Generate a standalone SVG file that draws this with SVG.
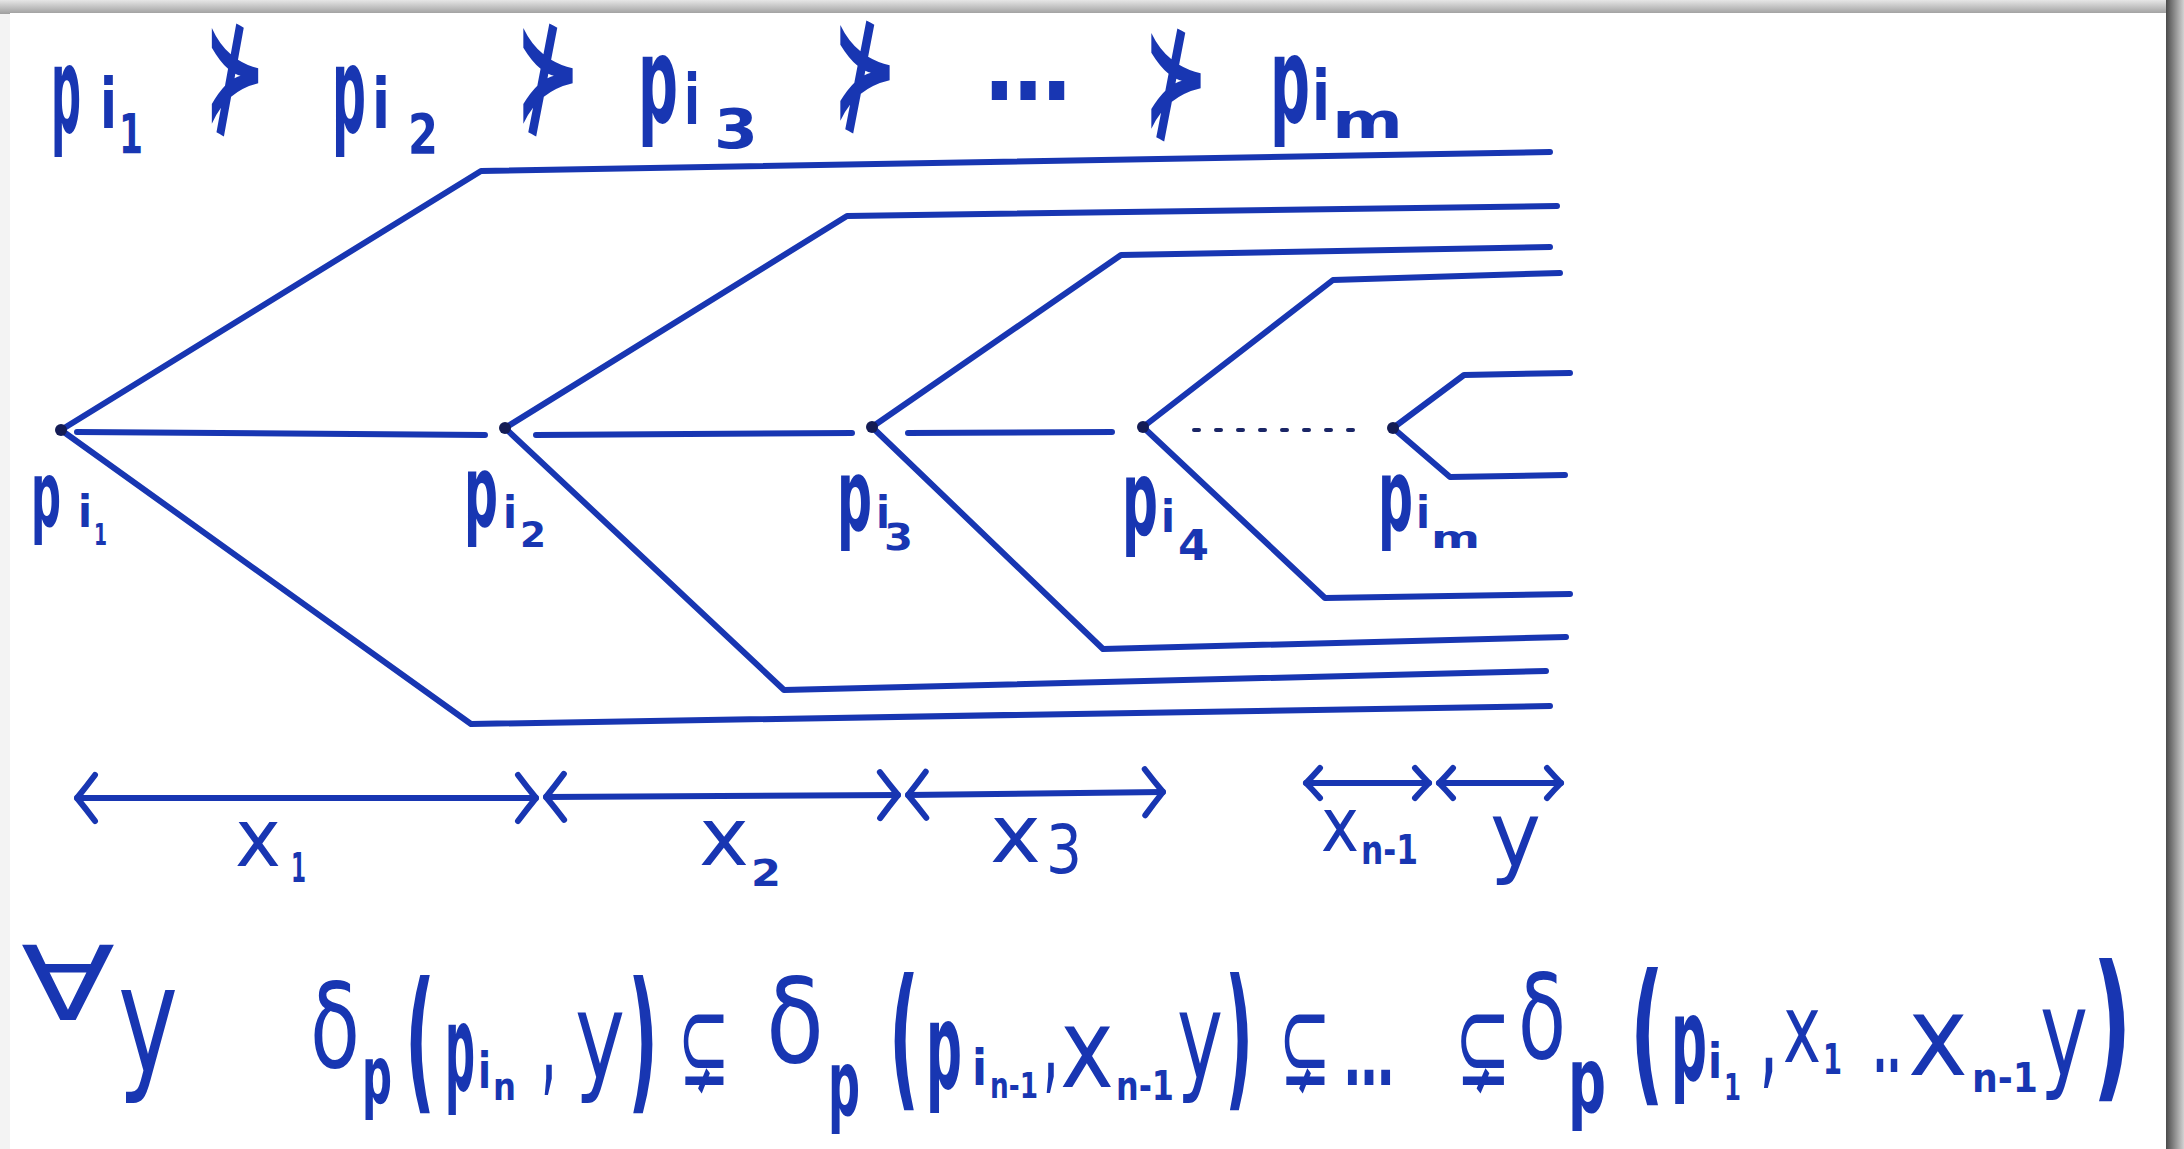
<svg xmlns="http://www.w3.org/2000/svg" width="2184" height="1149" viewBox="0 0 2184 1149">
<defs>
  <linearGradient id="gTop" x1="0" y1="0" x2="0" y2="1">
    <stop offset="0" stop-color="#e6e6e6"/>
    <stop offset="1" stop-color="#9e9e9e"/>
  </linearGradient>
  <linearGradient id="gRight" x1="0" y1="0" x2="1" y2="0">
    <stop offset="0" stop-color="#4a4a4a"/>
    <stop offset="1" stop-color="#d2d2d2"/>
  </linearGradient>
  <marker id="ahBig" markerUnits="userSpaceOnUse" viewBox="0 0 26 52" markerWidth="26" markerHeight="52" refX="22" refY="26" orient="auto-start-reverse" overflow="visible">
    <path d="M4,3 Q13,15 22,26 Q13,37 4,49" fill="none" stroke="#1836b2" stroke-width="6" stroke-linecap="round" stroke-linejoin="round"/>
  </marker>
  <marker id="ahSmall" markerUnits="userSpaceOnUse" viewBox="0 0 20 34" markerWidth="20" markerHeight="34" refX="17" refY="17" orient="auto-start-reverse" overflow="visible">
    <path d="M3,2 Q10,10 17,17 Q10,24 3,32" fill="none" stroke="#1836b2" stroke-width="6" stroke-linecap="round" stroke-linejoin="round"/>
  </marker>
</defs>
<style>
  .ln{fill:none;stroke:#1836b2;stroke-width:6;stroke-linecap:round;stroke-linejoin:round}
  .dot{fill:none;stroke:#1a2566;stroke-width:4;stroke-linecap:round;stroke-dasharray:5 17}
  .nd{fill:#141c55}
  .t{font-family:"DejaVu Sans","Liberation Sans",sans-serif;font-weight:normal;fill:#1836b2}
  .b{font-weight:bold}
</style>

<!-- page frame -->
<rect width="2184" height="1149" fill="#f3f3f3"/>
<rect x="0" y="0" width="2184" height="14" fill="url(#gTop)"/>
<rect x="2166" y="0" width="18" height="1149" fill="url(#gRight)"/>
<rect x="10" y="13" width="2156" height="1136" fill="#ffffff"/>

<!-- top formula -->
<g id="top-formula">
  <text class="t b"><tspan x="51" y="132" font-size="120" textLength="30" lengthAdjust="spacingAndGlyphs">p</tspan><tspan x="100" y="128" font-size="70" textLength="17" lengthAdjust="spacingAndGlyphs">i</tspan><tspan x="119" y="153" font-size="55" textLength="24" lengthAdjust="spacingAndGlyphs">1</tspan></text>
  <text class="t b" x="204" y="125" font-size="130" textLength="62" lengthAdjust="spacingAndGlyphs">⊁</text>
  <text class="t b"><tspan x="332" y="132" font-size="120" textLength="34" lengthAdjust="spacingAndGlyphs">p</tspan><tspan x="372" y="128" font-size="70" textLength="18" lengthAdjust="spacingAndGlyphs">i</tspan><tspan x="408" y="153" font-size="55" textLength="30" lengthAdjust="spacingAndGlyphs">2</tspan></text>
  <text class="t b" x="515" y="125" font-size="130" textLength="66" lengthAdjust="spacingAndGlyphs">⊁</text>
  <text class="t b"><tspan x="638" y="122" font-size="120" textLength="40" lengthAdjust="spacingAndGlyphs">p</tspan><tspan x="684" y="124" font-size="70" textLength="16" lengthAdjust="spacingAndGlyphs">i</tspan><tspan x="714" y="148" font-size="55" textLength="44" lengthAdjust="spacingAndGlyphs">3</tspan></text>
  <text class="t b" x="832" y="122" font-size="130" textLength="66" lengthAdjust="spacingAndGlyphs">⊁</text>
  <text class="t b" x="985" y="100" font-size="100" textLength="86" lengthAdjust="spacingAndGlyphs">…</text>
  <text class="t b" x="1143" y="130" font-size="130" textLength="66" lengthAdjust="spacingAndGlyphs">⊁</text>
  <text class="t b"><tspan x="1270" y="122" font-size="120" textLength="40" lengthAdjust="spacingAndGlyphs">p</tspan><tspan x="1312" y="120" font-size="70" textLength="18" lengthAdjust="spacingAndGlyphs">i</tspan><tspan x="1332" y="138" font-size="50" textLength="71" lengthAdjust="spacingAndGlyphs">m</tspan></text>
</g>

<!-- connectors: branch lines -->
<g id="connectors">
  <polyline class="ln" points="61,430 481,171 1550,152"/>
  <polyline class="ln" points="61,430 471,724 1550,706"/>
  <line class="ln" x1="77" y1="432" x2="485" y2="435"/>

  <polyline class="ln" points="505,428 847,216 1557,206"/>
  <polyline class="ln" points="505,428 784,690 1546,671"/>
  <line class="ln" x1="536" y1="435" x2="852" y2="433"/>

  <polyline class="ln" points="872,427 1121,255 1550,247"/>
  <polyline class="ln" points="872,427 1103,649 1566,637"/>
  <line class="ln" x1="908" y1="433" x2="1112" y2="432"/>

  <polyline class="ln" points="1143,427 1333,280 1560,273"/>
  <polyline class="ln" points="1143,427 1325,598 1570,594"/>
  <line class="dot" x1="1194" y1="430" x2="1367" y2="430"/>

  <polyline class="ln" points="1393,428 1464,375 1570,373"/>
  <polyline class="ln" points="1393,428 1450,477 1565,475"/>
</g>

<!-- nodes -->
<g id="node-pi1">
  <circle class="nd" cx="61" cy="430" r="6"/>
  <text class="t b"><tspan x="31" y="526" font-size="90" textLength="30" lengthAdjust="spacingAndGlyphs">p</tspan><tspan x="78" y="527" font-size="45" textLength="14" lengthAdjust="spacingAndGlyphs">i</tspan><tspan x="94" y="545" font-size="30" textLength="13" lengthAdjust="spacingAndGlyphs">1</tspan></text>
</g>
<g id="node-pi2">
  <circle class="nd" cx="505" cy="428" r="6"/>
  <text class="t b"><tspan x="464" y="526" font-size="100" textLength="34" lengthAdjust="spacingAndGlyphs">p</tspan><tspan x="503" y="528" font-size="45" textLength="14" lengthAdjust="spacingAndGlyphs">i</tspan><tspan x="520" y="547" font-size="35" textLength="26" lengthAdjust="spacingAndGlyphs">2</tspan></text>
</g>
<g id="node-pi3">
  <circle class="nd" cx="872" cy="427" r="6"/>
  <text class="t b"><tspan x="837" y="530" font-size="100" textLength="35" lengthAdjust="spacingAndGlyphs">p</tspan><tspan x="876" y="528" font-size="45" textLength="14" lengthAdjust="spacingAndGlyphs">i</tspan><tspan x="884" y="550" font-size="38" textLength="29" lengthAdjust="spacingAndGlyphs">3</tspan></text>
</g>
<g id="node-pi4">
  <circle class="nd" cx="1143" cy="427" r="6"/>
  <text class="t b"><tspan x="1122" y="535" font-size="105" textLength="36" lengthAdjust="spacingAndGlyphs">p</tspan><tspan x="1161" y="532" font-size="45" textLength="14" lengthAdjust="spacingAndGlyphs">i</tspan><tspan x="1178" y="560" font-size="42" textLength="31" lengthAdjust="spacingAndGlyphs">4</tspan></text>
</g>
<g id="node-pim">
  <circle class="nd" cx="1393" cy="428" r="6"/>
  <text class="t b"><tspan x="1378" y="530" font-size="100" textLength="35" lengthAdjust="spacingAndGlyphs">p</tspan><tspan x="1416" y="528" font-size="45" textLength="14" lengthAdjust="spacingAndGlyphs">i</tspan><tspan x="1431" y="548" font-size="30" textLength="49" lengthAdjust="spacingAndGlyphs">m</tspan></text>
</g>

<!-- dimension arrows -->
<g id="dimensions">
  <line class="ln" x1="77" y1="798" x2="536" y2="798" marker-start="url(#ahBig)" marker-end="url(#ahBig)"/>
  <line class="ln" x1="546" y1="797" x2="898" y2="795" marker-start="url(#ahBig)" marker-end="url(#ahBig)"/>
  <line class="ln" x1="908" y1="795" x2="1163" y2="792" marker-start="url(#ahBig)" marker-end="url(#ahBig)"/>
  <line class="ln" x1="1306" y1="783" x2="1429" y2="783" marker-start="url(#ahSmall)" marker-end="url(#ahSmall)"/>
  <line class="ln" x1="1439" y1="783" x2="1561" y2="783" marker-start="url(#ahSmall)" marker-end="url(#ahSmall)"/>

  <text class="t"><tspan x="235" y="866" font-size="80" textLength="46" lengthAdjust="spacingAndGlyphs">x</tspan><tspan class="b" x="291" y="882" font-size="40" textLength="15" lengthAdjust="spacingAndGlyphs">1</tspan></text>
  <text class="t"><tspan x="699" y="865" font-size="80" textLength="50" lengthAdjust="spacingAndGlyphs">x</tspan><tspan class="b" x="751" y="886" font-size="38" textLength="30" lengthAdjust="spacingAndGlyphs">2</tspan></text>
  <text class="t"><tspan x="990" y="862" font-size="80" textLength="51" lengthAdjust="spacingAndGlyphs">x</tspan><tspan x="1046" y="873" font-size="68" textLength="36" lengthAdjust="spacingAndGlyphs">3</tspan></text>
  <text class="t"><tspan x="1321" y="851" font-size="75" textLength="38" lengthAdjust="spacingAndGlyphs">x</tspan><tspan class="b" x="1361" y="864" font-size="40" textLength="57" lengthAdjust="spacingAndGlyphs">n-1</tspan></text>
  <text class="t" x="1490" y="866" font-size="90" textLength="51" lengthAdjust="spacingAndGlyphs">y</text>
</g>

<!-- bottom formula -->
<g id="bottom-formula">
  <text class="t"><tspan x="21" y="1020" font-size="103" textLength="94" lengthAdjust="spacingAndGlyphs">∀</tspan><tspan x="118" y="1072" font-size="150" textLength="60" lengthAdjust="spacingAndGlyphs">y</tspan></text>

  <text class="t"><tspan x="310" y="1067" font-size="118" textLength="50" lengthAdjust="spacingAndGlyphs">δ</tspan><tspan class="b" x="362" y="1103" font-size="80" textLength="30" lengthAdjust="spacingAndGlyphs">p</tspan><tspan class="b" x="405" y="1093" font-size="155" textLength="30" lengthAdjust="spacingAndGlyphs">(</tspan><tspan class="b" x="445" y="1090" font-size="120" textLength="30" lengthAdjust="spacingAndGlyphs">p</tspan><tspan class="b" x="478" y="1088" font-size="50" textLength="13" lengthAdjust="spacingAndGlyphs">i</tspan><tspan class="b" x="493" y="1100" font-size="38" textLength="23" lengthAdjust="spacingAndGlyphs">n</tspan><tspan class="b" x="543" y="1082" font-size="90" textLength="12" lengthAdjust="spacingAndGlyphs">,</tspan><tspan x="575" y="1078" font-size="120" textLength="50" lengthAdjust="spacingAndGlyphs">y</tspan><tspan class="b" x="628" y="1093" font-size="155" textLength="30" lengthAdjust="spacingAndGlyphs">)</tspan></text>
  <text class="t" x="678" y="1085" font-size="115" textLength="52" lengthAdjust="spacingAndGlyphs">⊊</text>

  <text class="t"><tspan x="766" y="1062" font-size="118" textLength="58" lengthAdjust="spacingAndGlyphs">δ</tspan><tspan class="b" x="828" y="1115" font-size="90" textLength="32" lengthAdjust="spacingAndGlyphs">p</tspan><tspan class="b" x="889" y="1090" font-size="155" textLength="30" lengthAdjust="spacingAndGlyphs">(</tspan><tspan class="b" x="926" y="1088" font-size="120" textLength="36" lengthAdjust="spacingAndGlyphs">p</tspan><tspan class="b" x="972" y="1085" font-size="50" textLength="15" lengthAdjust="spacingAndGlyphs">i</tspan><tspan class="b" x="990" y="1098" font-size="36" textLength="48" lengthAdjust="spacingAndGlyphs">n-1</tspan><tspan class="b" x="1045" y="1080" font-size="90" textLength="12" lengthAdjust="spacingAndGlyphs">,</tspan><tspan x="1060" y="1087" font-size="110" textLength="54" lengthAdjust="spacingAndGlyphs">x</tspan><tspan class="b" x="1116" y="1100" font-size="40" textLength="58" lengthAdjust="spacingAndGlyphs">n-1</tspan><tspan x="1177" y="1078" font-size="120" textLength="46" lengthAdjust="spacingAndGlyphs">y</tspan><tspan class="b" x="1225" y="1090" font-size="155" textLength="28" lengthAdjust="spacingAndGlyphs">)</tspan></text>
  <text class="t" x="1279" y="1085" font-size="115" textLength="52" lengthAdjust="spacingAndGlyphs">⊊</text>
  <text class="t b" x="1344" y="1085" font-size="80" textLength="50" lengthAdjust="spacingAndGlyphs">…</text>
  <text class="t" x="1455" y="1085" font-size="115" textLength="56" lengthAdjust="spacingAndGlyphs">⊊</text>

  <text class="t"><tspan x="1518" y="1058" font-size="118" textLength="48" lengthAdjust="spacingAndGlyphs">δ</tspan><tspan class="b" x="1568" y="1112" font-size="90" textLength="38" lengthAdjust="spacingAndGlyphs">p</tspan><tspan class="b" x="1630" y="1085" font-size="155" textLength="34" lengthAdjust="spacingAndGlyphs">(</tspan><tspan class="b" x="1671" y="1080" font-size="115" textLength="36" lengthAdjust="spacingAndGlyphs">p</tspan><tspan class="b" x="1708" y="1078" font-size="48" textLength="14" lengthAdjust="spacingAndGlyphs">i</tspan><tspan class="b" x="1724" y="1100" font-size="38" textLength="17" lengthAdjust="spacingAndGlyphs">1</tspan><tspan class="b" x="1762" y="1075" font-size="90" textLength="14" lengthAdjust="spacingAndGlyphs">,</tspan><tspan x="1783" y="1062" font-size="95" textLength="38" lengthAdjust="spacingAndGlyphs">x</tspan><tspan class="b" x="1823" y="1074" font-size="42" textLength="19" lengthAdjust="spacingAndGlyphs">1</tspan><tspan class="b" x="1873" y="1072" font-size="70" textLength="28" lengthAdjust="spacingAndGlyphs">..</tspan><tspan x="1908" y="1075" font-size="110" textLength="60" lengthAdjust="spacingAndGlyphs">x</tspan><tspan class="b" x="1972" y="1092" font-size="40" textLength="66" lengthAdjust="spacingAndGlyphs">n-1</tspan><tspan x="2040" y="1075" font-size="120" textLength="48" lengthAdjust="spacingAndGlyphs">y</tspan><tspan class="b" x="2092" y="1080" font-size="160" textLength="40" lengthAdjust="spacingAndGlyphs">)</tspan></text>
</g>
</svg>
